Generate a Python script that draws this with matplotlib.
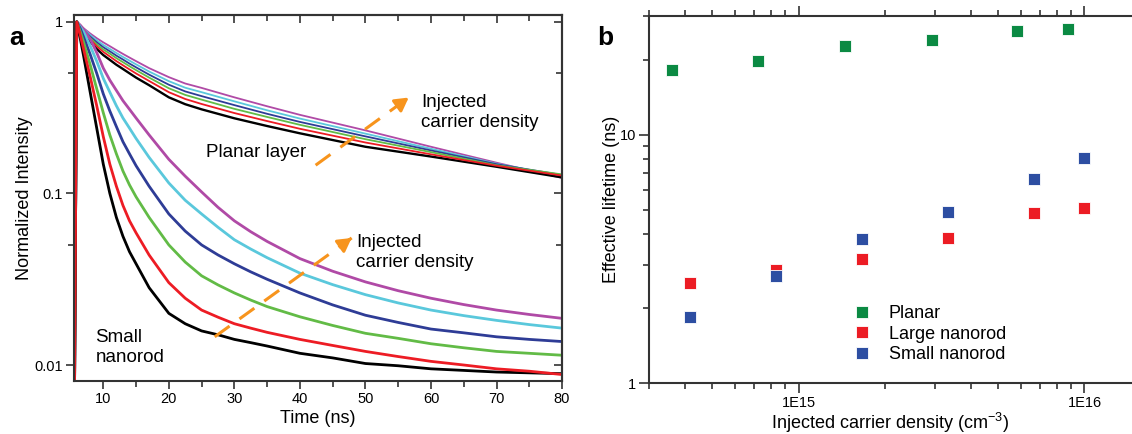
import math
import matplotlib
matplotlib.use("Agg")
import matplotlib.pyplot as plt
from matplotlib.ticker import FixedLocator, FuncFormatter, LogLocator, NullFormatter

plt.rcParams['font.family'] = ['Liberation Sans', 'DejaVu Sans']
plt.rcParams['mathtext.fontset'] = 'custom'
plt.rcParams['mathtext.rm'] = 'Liberation Sans'
plt.rcParams['mathtext.it'] = 'Liberation Sans:italic'

# ---- panel a: decay traces ----
time_planar = [5.6, 5.95, 6.5, 7, 8, 9, 10, 11, 12, 13, 14, 15, 17, 20, 22.5, 25, 30, 35, 40, 50, 60, 70, 80]

planar = {
    'black':   [0.006, 1, 0.923, 0.861, 0.767, 0.695, 0.640, 0.600, 0.562, 0.531, 0.501, 0.473, 0.427,
                0.363, 0.331, 0.309, 0.274, 0.247, 0.224, 0.187, 0.164, 0.143, 0.124],
    'red':     [0.006, 1, 0.931, 0.875, 0.789, 0.721, 0.668, 0.628, 0.590, 0.558, 0.528, 0.500, 0.452,
                0.389, 0.355, 0.332, 0.294, 0.264, 0.238, 0.198, 0.169, 0.145, 0.127],
    'green':   [0.006, 1, 0.938, 0.887, 0.805, 0.741, 0.690, 0.652, 0.614, 0.582, 0.551, 0.523, 0.473,
                0.410, 0.375, 0.352, 0.311, 0.279, 0.251, 0.207, 0.174, 0.146, 0.129],
    'blue':    [0.006, 1, 0.942, 0.895, 0.820, 0.760, 0.711, 0.673, 0.635, 0.603, 0.571, 0.543, 0.492,
                0.430, 0.393, 0.369, 0.327, 0.291, 0.261, 0.215, 0.178, 0.148, 0.128],
    'cyan':    [0.006, 1, 0.948, 0.906, 0.838, 0.780, 0.733, 0.695, 0.658, 0.624, 0.594, 0.565, 0.513,
                0.451, 0.413, 0.389, 0.344, 0.305, 0.273, 0.223, 0.182, 0.149, 0.126],
    'magenta': [0.006, 1, 0.955, 0.918, 0.855, 0.803, 0.759, 0.721, 0.684, 0.650, 0.619, 0.590, 0.537,
                0.476, 0.437, 0.412, 0.363, 0.322, 0.287, 0.233, 0.187, 0.151, 0.123],
}

time_rod = [5.6, 5.95, 6.5, 7, 8, 9, 10, 11, 12, 13, 14, 15, 17, 20, 22.5, 25, 27.5, 30, 32.5, 35,
            40, 45, 50, 55, 60, 65, 70, 75, 80]

small_rod = {
    'black':   [0.006, 1, 0.794, 0.631, 0.389, 0.240, 0.148, 0.100, 0.0724, 0.0562, 0.0457, 0.0389, 0.0282,
                0.0200, 0.0174, 0.0158, 0.0150, 0.0141, 0.0135, 0.0129, 0.0117, 0.0110, 0.0102, 0.0099,
                0.0095, 0.0093, 0.0091, 0.0090, 0.0089],
    'red':     [0.006, 1, 0.832, 0.692, 0.479, 0.324, 0.214, 0.148, 0.110, 0.0851, 0.0692, 0.0589, 0.0437,
                0.0302, 0.0245, 0.0209, 0.0190, 0.0174, 0.0164, 0.0155, 0.0141, 0.0130, 0.0120, 0.0112,
                0.0105, 0.0100, 0.0095, 0.0092, 0.0088],
    'green':   [0.006, 1, 0.871, 0.759, 0.562, 0.407, 0.295, 0.219, 0.170, 0.135, 0.112, 0.0955, 0.0724,
                0.0501, 0.0398, 0.0331, 0.0293, 0.0263, 0.0239, 0.0219, 0.0191, 0.0170, 0.0153, 0.0143,
                0.0133, 0.0126, 0.0120, 0.0117, 0.0114],
    'blue':    [0.006, 1, 0.912, 0.813, 0.646, 0.501, 0.380, 0.302, 0.245, 0.200, 0.170, 0.145, 0.110,
                0.0759, 0.0603, 0.0501, 0.0438, 0.0389, 0.0349, 0.0316, 0.0263, 0.0224, 0.0195, 0.0177,
                0.0162, 0.0154, 0.0146, 0.0141, 0.0137],
    'cyan':    [0.006, 1, 0.933, 0.871, 0.724, 0.589, 0.468, 0.389, 0.324, 0.275, 0.240, 0.209, 0.162,
                0.115, 0.0912, 0.0759, 0.0635, 0.0537, 0.0474, 0.0422, 0.0343, 0.0294, 0.0257, 0.0230,
                0.0209, 0.0194, 0.0182, 0.0172, 0.0164],
    'magenta': [0.006, 1, 0.955, 0.902, 0.794, 0.661, 0.537, 0.457, 0.398, 0.347, 0.309, 0.275, 0.219,
                0.158, 0.126, 0.102, 0.0830, 0.0692, 0.0598, 0.0525, 0.0417, 0.0352, 0.0305, 0.0271,
                0.0245, 0.0225, 0.0209, 0.0197, 0.0187],
}

trace_colors = {'black': '#000000', 'red': '#ed1c24', 'green': '#62bb46',
                'blue': '#2e3c96', 'cyan': '#5ac8dc', 'magenta': '#b04aa6'}
draw_order = ['magenta', 'cyan', 'blue', 'green', 'black', 'red']

# ---- panel b: lifetimes ----
density = [3.62e14, 7.24e14, 1.45e15, 2.92e15, 5.83e15, 8.73e15]
tau_planar = [18.2, 19.9, 22.8, 24.1, 26.2, 26.6]
density_rod = [4.19e14, 8.35e14, 1.67e15, 3.34e15, 6.68e15, 1.0e16]
tau_large = [2.54, 2.84, 3.16, 3.84, 4.84, 5.08]
tau_small = [1.84, 2.69, 3.80, 4.88, 6.63, 8.03]

orange = '#f7941d'
spine_col = '#333333'

fig = plt.figure(figsize=(11.32, 4.34), dpi=100)
ax1 = fig.add_axes([0.0656, 0.1228, 0.4309, 0.8433])
ax2 = fig.add_axes([0.5733, 0.1175, 0.4267, 0.8456])

for name in draw_order:
    ax1.plot(time_planar, planar[name], color=trace_colors[name],
             lw=1.7 if name == 'black' else 1.3)
for name in draw_order:
    ax1.plot(time_rod, small_rod[name], color=trace_colors[name], lw=2.0)

ax1.set_yscale('log')
ax1.set_xlim(5.57, 80)
ax1.set_ylim(0.0081, 1.1)
xmaj = [10, 20, 30, 40, 50, 60, 70, 80]
xmin = [15, 25, 35, 45, 55, 65, 75]
ax1.xaxis.set_major_locator(FixedLocator(xmaj))
ax1.xaxis.set_minor_locator(FixedLocator(xmin))
ax1.yaxis.set_major_locator(FixedLocator([0.01, 0.1, 1]))
ax1.yaxis.set_minor_locator(FixedLocator([0.05, 0.5]))
ax1.yaxis.set_major_formatter(FuncFormatter(lambda v, p: {0.01: '0.01', 0.1: '0.1', 1: '1'}.get(round(v, 3), '')))
ax1.yaxis.set_minor_formatter(NullFormatter())
ax1.set_xlabel('Time (ns)', fontsize=13, labelpad=3)
ax1.set_ylabel('Normalized Intensity', fontsize=13, labelpad=1)

# outward ticks on left/bottom, inward on top/right
ax1.tick_params(which='both', direction='out', top=False, right=False, labelsize=10.5,
                color=spine_col, width=1.2, pad=2)
ax1.tick_params(which='major', length=6)
ax1.tick_params(which='minor', length=4)
ax1t = ax1.secondary_xaxis('top')
ax1t.xaxis.set_major_locator(FixedLocator(xmaj))
ax1t.xaxis.set_minor_locator(FixedLocator(xmin))
ax1t.tick_params(which='both', direction='in', labeltop=False, color=spine_col, width=1.2)
ax1t.tick_params(which='major', length=6)
ax1t.tick_params(which='minor', length=4)
ax1r = ax1.secondary_yaxis('right')
ax1r.set_yscale('log')
ax1r.yaxis.set_major_locator(FixedLocator([0.01, 0.1, 1]))
ax1r.yaxis.set_minor_locator(FixedLocator([0.05, 0.5]))
ax1r.tick_params(which='both', direction='in', labelright=False, color=spine_col, width=1.2)
ax1r.tick_params(which='major', length=6)
ax1r.tick_params(which='minor', length=4)
for sp in list(ax1.spines.values()) + [ax1t.spines['top'], ax1r.spines['right']]:
    sp.set_color(spine_col)
    sp.set_linewidth(1.5)


# dashed orange arrows
def dashed_arrow(ax, start, end):
    ax.plot([start[0], end[0]], [start[1], end[1]], color=orange, lw=2.2,
            dashes=(6, 4), solid_capstyle='butt')
    ax.annotate('', xy=end, xytext=(start[0] + 0.93 * (end[0] - start[0]),
                                    start[1] * (end[1] / start[1]) ** 0.93),
                arrowprops=dict(arrowstyle='-|>,head_length=0.8,head_width=0.45',
                                color=orange, lw=2.2, shrinkA=0, shrinkB=0))


dashed_arrow(ax1, (42.4, 0.146), (56.6, 0.362))
dashed_arrow(ax1, (27.0, 0.0146), (47.9, 0.055))

ax1.text(58.5, 0.297, 'Injected\ncarrier density', fontsize=13.5, ha='left', va='center', linespacing=1.2)
ax1.text(48.6, 0.0454, 'Injected\ncarrier density', fontsize=13.5, ha='left', va='center', linespacing=1.2)
ax1.text(25.7, 0.172, 'Planar layer', fontsize=13.5, ha='left', va='center')
ax1.text(8.8, 0.0126, 'Small\nnanorod', fontsize=13.5, ha='left', va='center', linespacing=1.2)

# ---- panel b ----
mk = dict(marker='s', ls='none', ms=8.5, mec='white', mew=0.6)
ax2.plot(density, tau_planar, color='#0b8a43', label='Planar', **mk)
ax2.plot(density_rod, tau_large, color='#ec1c24', label='Large nanorod', **mk)
ax2.plot(density_rod, tau_small, color='#2d4ea2', label='Small nanorod', **mk)

ax2.set_xscale('log')
ax2.set_yscale('log')
ax2.set_xlim(3e14, 1.466e16)
ax2.set_ylim(1, 30.1)
ax2.xaxis.set_major_locator(FixedLocator([1e15, 1e16]))
ax2.xaxis.set_minor_locator(LogLocator(base=10, subs=range(2, 10)))
ax2.xaxis.set_major_formatter(FuncFormatter(lambda v, p: '1E%d' % round(math.log10(v))))
ax2.xaxis.set_minor_formatter(NullFormatter())
ax2.yaxis.set_major_locator(FixedLocator([1, 10]))
ax2.yaxis.set_minor_locator(LogLocator(base=10, subs=range(2, 10)))
ax2.yaxis.set_major_formatter(FuncFormatter(lambda v, p: '%d' % round(v)))
ax2.yaxis.set_minor_formatter(NullFormatter())
ax2.tick_params(which='both', direction='out', top=True, right=False, labelsize=10.5,
                color=spine_col, width=1.2, pad=2)
ax2.tick_params(which='major', length=7)
ax2.tick_params(which='minor', length=4)
ax2.spines['right'].set_visible(False)
for sp in ax2.spines.values():
    sp.set_color(spine_col)
    sp.set_linewidth(1.5)
ax2.set_xlabel('Injected carrier density (cm$^{-3}$)', fontsize=13, labelpad=1)
ax2.set_ylabel('Effective lifetime (ns)', fontsize=13, labelpad=0)

ax2.legend(loc='upper left', bbox_to_anchor=(0.422, 0.2125), frameon=False, fontsize=13,
           handlelength=1.0, handletextpad=1.0, labelspacing=0.2, borderpad=0,
           borderaxespad=0, markerscale=1.0)

fig.text(9 / 1132, 1 - 45 / 434, 'a', fontsize=19, fontweight='bold', ha='left', va='baseline')
fig.text(597 / 1132, 1 - 45 / 434, 'b', fontsize=19, fontweight='bold', ha='left', va='baseline')

fig.savefig('out.png', dpi=100)
